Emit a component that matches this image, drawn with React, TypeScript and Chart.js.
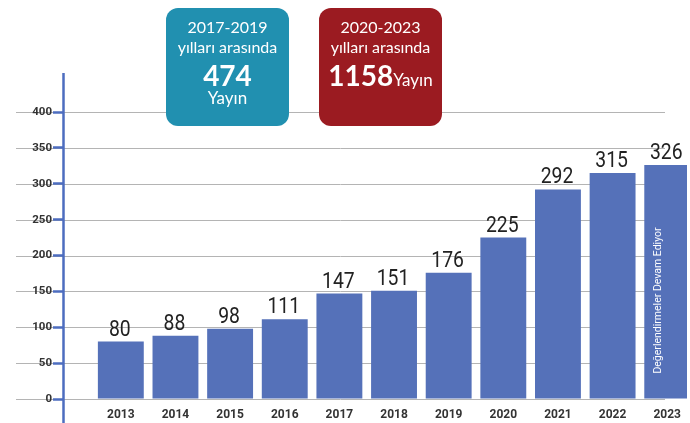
import React, { useEffect, useRef } from 'react';
import { Chart, registerables } from 'chart.js';

Chart.register(...registerables);

// ---- data ----
const years = [2013, 2014, 2015, 2016, 2017, 2018, 2019, 2020, 2021, 2022, 2023];
const publications = [80, 88, 98, 111, 147, 151, 176, 225, 292, 315, 326];
const yTicks = [0, 50, 100, 150, 200, 250, 300, 350, 400];
const ongoingNote = 'Değerlendirmeler Devam Ediyor';
const box1Lines = ['2017-2019', 'yılları arasında', '474', 'Yayın'];
const box2Lines = ['2020-2023', 'yılları arasında', '1158', 'Yayın'];

const BAR = '#5571b9';
const AXIS = '#4d6dbf';
const GRID = '#b4b4b4';

const decorPlugin = {
  id: 'decor',
  beforeDraw(chart: any) {
    const { ctx } = chart;
    const y = chart.scales.y;
    ctx.save();
    ctx.strokeStyle = GRID;
    ctx.lineWidth = 1;
    yTicks.forEach((v) => {
      const py = Math.round(y.getPixelForValue(v)) + 0.5;
      ctx.beginPath();
      ctx.moveTo(16, py);
      ctx.lineTo(665, py);
      ctx.stroke();
    });
    ctx.restore();
  },
  afterDatasetsDraw(chart: any) {
    const { ctx } = chart;
    const meta = chart.getDatasetMeta(0);
    ctx.save();
    ctx.fillStyle = '#222';
    ctx.font = '22.5px Roboto, sans-serif';
    ctx.textAlign = 'center';
    ctx.textBaseline = 'alphabetic';
    meta.data.forEach((bar: any, i: number) => {
      ctx.save();
      ctx.translate(bar.x - 1, bar.y - 6);
      ctx.scale(0.86, 1);
      ctx.fillText(String(publications[i]), 0, 0);
      ctx.restore();
    });
    // note inside the last bar
    const last: any = meta.data[meta.data.length - 1];
    if (last) {
      ctx.translate(last.x - 9, last.base - 98);
      ctx.rotate(-Math.PI / 2);
      ctx.fillStyle = '#ffffff';
      ctx.font = '10.5px Roboto, sans-serif';
      ctx.textAlign = 'center';
      ctx.textBaseline = 'middle';
      ctx.fillText(ongoingNote, 0, 0);
    }
    ctx.restore();
  },
  afterDraw(chart: any) {
    const { ctx } = chart;
    ctx.save();
    ctx.strokeStyle = AXIS;
    ctx.lineWidth = 2.5;
    ctx.beginPath();
    ctx.moveTo(63.5, 73);
    ctx.lineTo(63.5, 423);
    ctx.stroke();
    ctx.restore();
  },
};

function Box({ left, bg, lines, inline }: { left: number; bg: string; lines: string[]; inline: boolean }) {
  const line = (top: number, h: number, style: React.CSSProperties, content: React.ReactNode) => (
    <div
      style={{
        position: 'absolute',
        left: 0,
        right: 0,
        top,
        height: h,
        lineHeight: `${h}px`,
        textAlign: 'center',
        whiteSpace: 'nowrap',
        ...style,
      }}
    >
      {content}
    </div>
  );
  return (
    <div
      style={{
        position: 'absolute',
        left,
        top: 8,
        width: 123,
        height: 118,
        background: bg,
        borderRadius: 12,
        color: '#fff',
        fontFamily: 'Lato, "Open Sans", sans-serif',
      }}
    >
      {line(9, 20, { fontSize: 16 }, lines[0])}
      {line(29, 20, { fontSize: 16 }, lines[1])}
      {inline
        ? line(51, 32, {}, (
            <span>
              <span style={{ fontSize: 28, fontWeight: 'bold' }}>{lines[2]}</span>
              <span style={{ fontSize: 17 }}>{lines[3]}</span>
            </span>
          ))
        : (
          <>
            {line(51, 32, { fontSize: 28, fontWeight: 'bold' }, lines[2])}
            {line(80, 20, { fontSize: 17 }, lines[3])}
          </>
        )}
    </div>
  );
}

export default function App() {
  const ref = useRef<HTMLCanvasElement | null>(null);

  useEffect(() => {
    if (!ref.current) return;
    const chart = new Chart(ref.current, {
      type: 'bar',
      data: {
        datasets: [
          {
            data: years.map((yr, i) => ({ x: yr, y: publications[i] })),
            backgroundColor: BAR,
            borderWidth: 0,
            categoryPercentage: 1,
            barPercentage: 0.84,
          },
        ],
      },
      options: {
        animation: false,
        responsive: false,
        devicePixelRatio: 1,
        layout: { padding: { top: 112, left: 0, right: 0, bottom: 0 } },
        plugins: { legend: { display: false }, tooltip: { enabled: false } },
        scales: {
          x: {
            type: 'linear',
            offset: false,
            min: 2011.96,
            max: 2023.36,
            afterBuildTicks: (s: any) => {
              s.ticks = years.map((v) => ({ value: v }));
            },
            afterFit: (s: any) => {
              s.height = 24;
            },
            grid: { display: false, drawTicks: false },
            border: { display: false },
            ticks: {
              callback: (v: any) => String(v),
              autoSkip: false,
              maxRotation: 0,
              padding: 9,
              color: '#333',
              font: { family: 'Roboto, sans-serif', weight: 'bold', size: 12 },
            },
          },
          y: {
            min: 0,
            max: 400,
            afterFit: (s: any) => {
              s.width = 64;
            },
            grid: { drawOnChartArea: false, tickColor: AXIS, tickWidth: 2.5, tickLength: 11 },
            border: { display: false },
            ticks: {
              stepSize: 50,
              padding: 1,
              color: '#333',
              font: { family: 'Roboto, sans-serif', weight: 'bold', size: 11.5 },
            },
          },
        },
      },
      plugins: [decorPlugin],
    });
    return () => chart.destroy();
  }, []);

  return (
    <div style={{ position: 'absolute', left: 0, top: 0, width: 690, height: 423, overflow: 'hidden', background: '#fff' }}>
      <canvas ref={ref} width={690} height={423} style={{ display: 'block' }} />
      <Box left={166} bg="#2190b0" lines={box1Lines} inline={false} />
      <Box left={319} bg="#9b1b21" lines={box2Lines} inline={true} />
    </div>
  );
}
